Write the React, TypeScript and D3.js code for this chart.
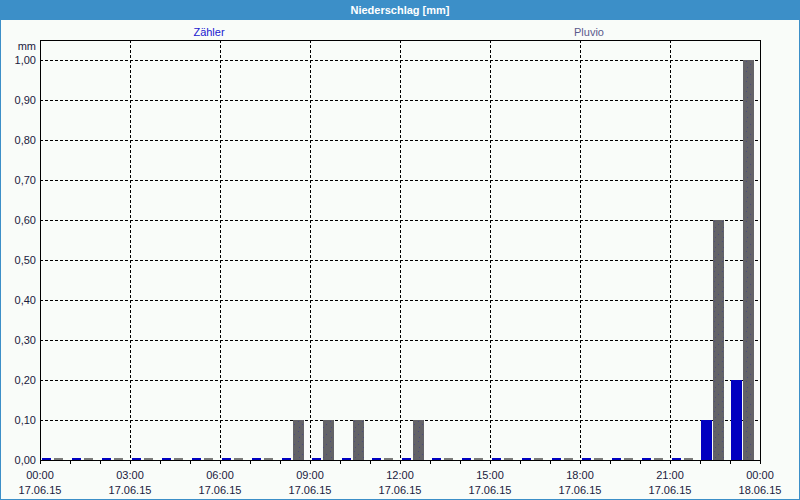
import React from "react";
import * as d3 from "d3";

const hours: number[] = d3.range(24);
const zaehler: number[] = [0, 0, 0, 0, 0, 0, 0, 0, 0, 0, 0, 0, 0, 0, 0, 0, 0, 0, 0, 0, 0, 0, 0.1, 0.2];
const pluvio: number[] = [0, 0, 0, 0, 0, 0, 0, 0, 0.1, 0.1, 0.1, 0, 0.1, 0, 0, 0, 0, 0, 0, 0, 0, 0, 0.6, 1.0];
const seriesNames: string[] = ["Zähler", "Pluvio"];
const yTicks: number[] = [0, 0.1, 0.2, 0.3, 0.4, 0.5, 0.6, 0.7, 0.8, 0.9, 1.0];
const xTickHours: number[] = [0, 3, 6, 9, 12, 15, 18, 21, 24];
const title = "Niederschlag [mm]";
const yUnit = "mm";

const W = 800;
const H = 500;
const L = 40, R = 760, T = 40, B = 460;
const FONT = "'Liberation Sans', Arial, sans-serif";
const TITLE_BG = "#3c8fc8";
const BG = "#f9fcf9";
const BLUE = "#0000c0";
const GRAY = "#636367";

export default function App() {
  const start = new Date(2015, 5, 17, 0, 0);
  const end = new Date(2015, 5, 18, 0, 0);
  const x = d3.scaleTime().domain([start, end]).range([L, R]);
  const y = d3.scaleLinear().domain([0, 1.05]).range([B, T]);
  const inner = d3.scaleBand<string>().domain(seriesNames).range([1, 24]).paddingInner(1 / 12);
  const hourDate = (h: number) => d3.timeHour.offset(start, h);
  const fmtY = (v: number) => d3.format(".2f")(v).replace(".", ",");
  const fmtTime = d3.timeFormat("%H:%M");
  const fmtDate = d3.timeFormat("%d.%m.%y");
  const bw = inner.bandwidth();

  const bars: React.ReactNode[] = [];
  hours.forEach((h, i) => {
    const x0 = x(hourDate(h));
    [zaehler[i], pluvio[i]].forEach((v, si) => {
      const name = seriesNames[si];
      const bx = x0 + (inner(name) as number);
      if (v === 0) {
        bars.push(
          <rect key={`${name}-${h}`} x={bx + 1} y={B - 2} width={bw - 2} height={2}
            fill={si === 0 ? BLUE : "#7a7a7a"} />
        );
      } else {
        const yy = y(v);
        bars.push(
          <g key={`${name}-${h}`}>
            <rect x={bx} y={yy} width={bw} height={B - yy} fill={si === 0 ? BLUE : GRAY} />
            {si === 1 && <rect x={bx} y={yy} width={bw} height={B - yy} fill="url(#dots)" />}
          </g>
        );
      }
    });
  });

  return (
    <svg width={W} height={H} style={{ position: "absolute", left: 0, top: 0, display: "block" }}
      fontFamily={FONT}>
      <defs>
        <pattern id="dots" patternUnits="userSpaceOnUse" width="8" height="10" x="0" y="0">
          <rect x="2" y="1" width="1" height="1" fill="#4a4a80" />
          <rect x="6" y="4" width="1" height="1" fill="#4a4a80" />
          <rect x="3" y="7" width="1" height="1" fill="#4a4a80" />
        </pattern>
      </defs>
      <rect x={0} y={0} width={W} height={H} fill={BG} />
      <rect x={0.5} y={0.5} width={W - 1} height={H - 1} fill="none" stroke={TITLE_BG} />
      <rect x={0} y={0} width={W} height={20} fill={TITLE_BG} />
      <text x={W / 2} y={14} textAnchor="middle" fill="#ffffff" fontWeight="bold" fontSize={11}>{title}</text>

      <text x={209} y={36} textAnchor="middle" fill="#1a1ad0" fontSize={11}>{seriesNames[0]}</text>
      <text x={589} y={36} textAnchor="middle" fill="#5a5a8c" fontSize={11}>{seriesNames[1]}</text>

      {/* horizontal grid */}
      {yTicks.filter((t) => t > 0).map((t) => (
        <line key={`hy${t}`} x1={L} x2={R} y1={Math.round(y(t)) + 0.5} y2={Math.round(y(t)) + 0.5}
          stroke="#000" strokeDasharray="3,2" />
      ))}
      {/* vertical grid */}
      {xTickHours.filter((h) => h > 0 && h < 24).map((h) => (
        <line key={`vx${h}`} x1={Math.round(x(hourDate(h))) + 0.5} x2={Math.round(x(hourDate(h))) + 0.5}
          y1={T} y2={B} stroke="#000" strokeDasharray="3,2" />
      ))}

      {bars}

      {/* hourly ticks */}
      {d3.range(0, 25).map((h) => (
        <line key={`tk${h}`} x1={Math.round(x(hourDate(h))) + 0.5} x2={Math.round(x(hourDate(h))) + 0.5}
          y1={B} y2={B + 4} stroke="#000" />
      ))}

      <rect x={L + 0.5} y={T + 0.5} width={R - L} height={B - T} fill="none" stroke="#000" />

      {/* y labels */}
      <text x={36} y={50} textAnchor="end" fill="#1a1a40" fontSize={11}>{yUnit}</text>
      {yTicks.map((t) => (
        <text key={`yl${t}`} x={36} y={y(t) + 4} textAnchor="end" fill="#1a1a40" fontSize={11}>{fmtY(t)}</text>
      ))}

      {/* x labels */}
      {xTickHours.map((h) => {
        const d = hourDate(h);
        return (
          <g key={`xl${h}`}>
            <text x={x(d)} y={479} textAnchor="middle" fill="#1a1a40" fontSize={11}>{fmtTime(d)}</text>
            <text x={x(d)} y={494} textAnchor="middle" fill="#1a1a40" fontSize={11}>{fmtDate(d)}</text>
          </g>
        );
      })}
    </svg>
  );
}
